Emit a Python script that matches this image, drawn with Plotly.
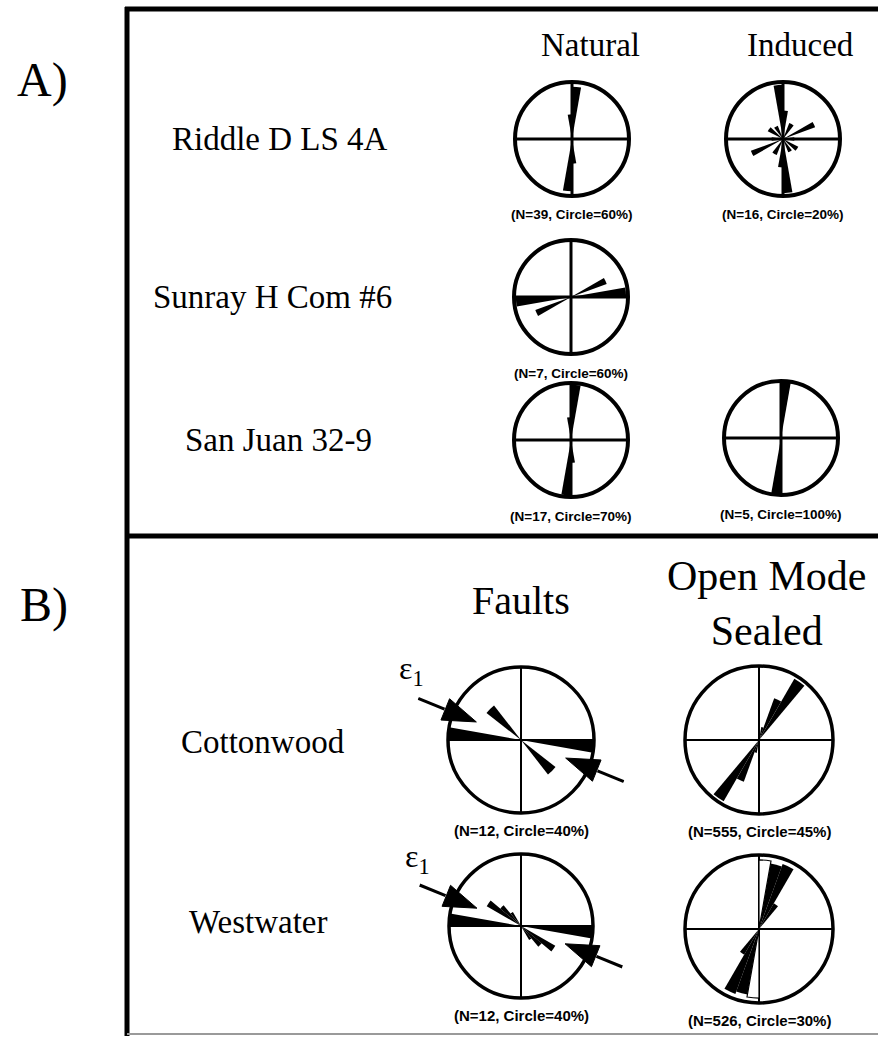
import plotly.graph_objects as go

W, H = 878, 1040

# ---- data (petal azimuth in deg clockwise from N, petal length in % of readings)
riddle_nat_dir = [5, 175, 185, 355]
riddle_nat_pct = [55, 26, 55, 26]
riddle_ind_dir = [5, 30, 65, 90, 125, 150, 175, 185, 210, 245, 270, 305, 330, 355]
riddle_ind_pct = [10, 6, 12, 4, 6, 5, 19, 10, 6, 12, 4, 6, 5, 19]
sunray_nat_dir = [65, 85, 245, 265]
sunray_nat_pct = [40, 58, 40, 58]
sanjuan_nat_dir = [5, 175, 185, 355]
sanjuan_nat_pct = [68, 28, 68, 28]
sanjuan_ind_dir = [5, 185]
sanjuan_ind_pct = [100, 100]
cotton_flt_dir = [95, 135, 275, 315]
cotton_flt_pct = [40, 24, 40, 24]
west_flt_dir = [95, 125, 135, 145, 275, 305, 315, 325]
west_flt_pct = [40, 22, 15, 9, 40, 22, 15, 9]
cotton_open_dir = [15, 25, 35, 195, 205, 215]
cotton_open_pct = [8, 27, 43, 8, 27, 43]
west_open_dir = [15, 25, 35, 195, 205, 215]
west_open_pct = [27, 28, 12, 27, 28, 12]
west_open_hollow_dir = [5, 185]
west_open_hollow_pct = [28, 28]

diagram_keys = ["riddle_nat", "riddle_ind", "sunray_nat", "sanjuan_nat", "sanjuan_ind",
                "cotton_flt", "cotton_open", "west_flt", "west_open"]
sample_n = [39, 16, 7, 17, 5, 12, 555, 12, 526]
circle_pct = [60, 20, 60, 70, 100, 40, 45, 40, 30]

# maximum horizontal strain (epsilon 1) azimuths on the fault diagrams
eps1_az = [112, 292]

panel_a_rows = ["Riddle D LS 4A", "Sunray H Com #6", "San Juan 32-9"]
panel_a_cols = ["Natural", "Induced"]
panel_b_rows = ["Cottonwood", "Westwater"]
panel_b_cols = ["Faults", "Open Mode<br>Sealed"]

petals = {
    "riddle_nat": (riddle_nat_dir, riddle_nat_pct),
    "riddle_ind": (riddle_ind_dir, riddle_ind_pct),
    "sunray_nat": (sunray_nat_dir, sunray_nat_pct),
    "sanjuan_nat": (sanjuan_nat_dir, sanjuan_nat_pct),
    "sanjuan_ind": (sanjuan_ind_dir, sanjuan_ind_pct),
    "cotton_flt": (cotton_flt_dir, cotton_flt_pct),
    "cotton_open": (cotton_open_dir, cotton_open_pct),
    "west_flt": (west_flt_dir, west_flt_pct),
    "west_open": (west_open_dir, west_open_pct),
}

# ---- placement (pixel centre and radius of each circle)
place = {
    "riddle_nat": (572, 139, 57),
    "riddle_ind": (783, 139, 57),
    "sunray_nat": (571, 297, 57),
    "sanjuan_nat": (571, 440, 57),
    "sanjuan_ind": (781, 438, 57),
    "cotton_flt": (521, 740, 73),
    "cotton_open": (759, 740, 74),
    "west_flt": (521, 926, 72),
    "west_open": (759, 929, 74),
}

SERIF = "Liberation Serif, Times New Roman, serif"
SANS = "Liberation Sans, Arial, sans-serif"
ARROW_K = 1.52  # overlay range, multiples of circle


def px(x):
    return x / W


def py(y):
    return 1 - y / H


def dom(cx, cy, r):
    return dict(x=[max(0, px(cx - r)), min(1, px(cx + r))],
                y=[max(0, py(cy + r)), min(1, py(cy - r))])


def label(text, x, y, size, family=SERIF):
    return dict(x=px(x), y=py(y), xref="paper", yref="paper", text=text,
                xanchor="center", yanchor="middle", showarrow=False,
                font=dict(family=family, size=size, color="black"))


def petal_width(key, pct):
    # short petals are drawn fatter in the source diagrams
    if key == "cotton_flt" and pct < 30:
        return 14
    if key == "riddle_ind" and pct < 8:
        return 17
    return 10


fig = go.Figure()
layout = {}
annotations = []

for i, key in enumerate(diagram_keys):
    pid = "polar" if i == 0 else f"polar{i + 1}"
    cx, cy, r = place[key]
    circ = circle_pct[i]
    big = key.startswith(("cotton", "west"))
    layout[pid] = dict(
        domain=dom(cx, cy, r),
        bgcolor="rgba(0,0,0,0)",
        radialaxis=dict(visible=False, range=[0, circ]),
        angularaxis=dict(rotation=90, direction="clockwise",
                         tickvals=[0, 90, 180, 270], showticklabels=False, ticks="",
                         showgrid=True, gridcolor="black", gridwidth=2.2 if big else 2.6,
                         showline=True, linecolor="black", linewidth=3.5 if big else 4),
    )
    dirs, pcts = petals[key]
    fig.add_trace(go.Barpolar(theta=dirs, r=pcts, width=[petal_width(key, p) for p in pcts],
                              subplot=pid, marker=dict(color="black", line=dict(width=0)),
                              showlegend=False))
    if key == "west_open":
        fig.add_trace(go.Barpolar(theta=west_open_hollow_dir, r=west_open_hollow_pct,
                                  width=10, subplot=pid,
                                  marker=dict(color="white", line=dict(color="black", width=1.2)),
                                  showlegend=False))
    annotations.append(label(f"<b>(N={sample_n[i]}, Circle={circ}%)</b>",
                             cx, cy + r + (17 if big else 19), 15 if big else 13.5, SANS))

# epsilon-1 arrows on fault diagrams (overlay polar with a larger range)
n_base = len(diagram_keys)
for j, key in enumerate(["cotton_flt", "west_flt"]):
    pid = f"polar{n_base + j + 1}"
    cx, cy, r = place[key]
    circ = circle_pct[diagram_keys.index(key)]
    layout[pid] = dict(
        domain=dom(cx, cy, r * ARROW_K),
        bgcolor="rgba(0,0,0,0)",
        radialaxis=dict(visible=False, range=[0, circ * ARROW_K]),
        angularaxis=dict(visible=False, rotation=90, direction="clockwise",
                         showgrid=False, showline=False),
    )
    for az in eps1_az:
        tail, base, tip = ARROW_K * circ, 1.13 * circ, 0.66 * circ
        fig.add_trace(go.Scatterpolar(r=[tail, base], theta=[az, az], mode="lines",
                                      line=dict(color="black", width=3), subplot=pid,
                                      showlegend=False))
        fig.add_trace(go.Scatterpolar(r=[tip, base, base, tip], theta=[az, az - 8, az + 8, az],
                                      mode="lines", fill="toself", fillcolor="black",
                                      line=dict(color="black", width=1), subplot=pid,
                                      showlegend=False))
    ex, ey = (411, 670) if key == "cotton_flt" else (417, 858)
    annotations.append(label("ε<sub>1</sub>", ex, ey, 32))

# panel letters, column and row labels
for text, (x, y) in zip(["A)", "B)"], [(42, 80), (44, 605)]):
    annotations.append(label(text, x, y, 48))
for text, x in zip(panel_a_cols, [590, 800]):
    annotations.append(label(text, x, 45, 33))
for text, (x, y) in zip(panel_a_rows, [(280, 139), (272, 297), (278, 440)]):
    annotations.append(label(text, x, y, 33))
for text, (x, y, s) in zip(panel_b_cols, [(521, 600, 40), (766, 603, 42)]):
    annotations.append(label(text, x, y, s))
for text, (x, y) in zip(panel_b_rows, [(263, 742), (258, 922)]):
    annotations.append(label(text, x, y, 33))

# panel frames
shapes = [
    dict(type="line", x0=px(125), x1=1, y0=py(9), y1=py(9), line=dict(color="black", width=5)),
    dict(type="line", x0=px(127), x1=px(127), y0=py(7), y1=py(1036), line=dict(color="black", width=5)),
    dict(type="line", x0=px(125), x1=1, y0=py(536), y1=py(536), line=dict(color="black", width=5)),
    dict(type="line", x0=px(127), x1=1, y0=py(1034), y1=py(1034), line=dict(color="#9a9a9a", width=2)),
]
for s in shapes:
    s.update(xref="paper", yref="paper")

fig.update_layout(
    **layout,
    annotations=annotations,
    shapes=shapes,
    width=W, height=H, autosize=False,
    margin=dict(l=0, r=0, t=0, b=0),
    paper_bgcolor="white", plot_bgcolor="white",
    showlegend=False,
)

fig.write_html("out.html", config={"displayModeBar": False},
               post_script="document.body.style.margin='0px';")
